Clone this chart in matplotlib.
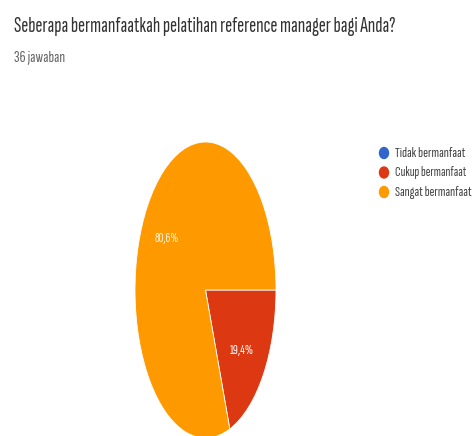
import matplotlib
matplotlib.use("Agg")
import matplotlib.pyplot as plt
from matplotlib.patches import Ellipse

title = "Seberapa bermanfaatkah pelatihan reference manager bagi Anda?"
subtitle = "36 jawaban"
labels = ["Tidak bermanfaat", "Cukup bermanfaat", "Sangat bermanfaat"]
values = [0.0, 19.4, 80.6]
pct_text = ["", "19,4%", "80,6%"]
colors = ["#3366CC", "#DC3912", "#FF9900"]

W, H = 474, 436
fig = plt.figure(figsize=(W / 100, H / 100), dpi=100)
font = ["Sofia Sans Extra Condensed", "Roboto Condensed", "DejaVu Sans"]

def px(x, y):
    return x / W, 1 - y / H

def fit_text(x, y, s, width_px, **kw):
    # size font so the text spans the same width as in the reference
    t = fig.text(*px(x, y), s, fontsize=10, family=font, **kw)
    r = fig.canvas.get_renderer()
    w = t.get_window_extent(r).width
    t.set_fontsize(10 * width_px / w)
    return t

fit_text(14, 26, title, 379, color="#333333", va="center")
fit_text(14, 57, subtitle, 51, color="#666666", va="center")

# stretched pie (tall ellipse)
ax = fig.add_axes([135 / W, (H - 438) / H, 141 / W, 296 / H])
ax.pie(values, colors=colors, startangle=0, counterclock=False,
       wedgeprops=dict(edgecolor="white", linewidth=0.6))
ax.set_aspect("auto")
ax.set_xlim(-1, 1)
ax.set_ylim(-1, 1)
ax.axis("off")

fit_text(242, 350, pct_text[1], 24, color="white", ha="center", va="center")
fit_text(167, 238, pct_text[2], 24, color="#FFF3DD", ha="center", va="center")

for i, lab in enumerate(labels):
    fig.patches.append(Ellipse(px(384, 153 + 19.5 * i), 9 / W, 11 / H, color=colors[i],
                               transform=fig.transFigure))
    fit_text(395, 153 + 19.5 * i, lab, 71 if i < 2 else 77, color="#444444", va="center")

fig.savefig("out.png", dpi=100)
